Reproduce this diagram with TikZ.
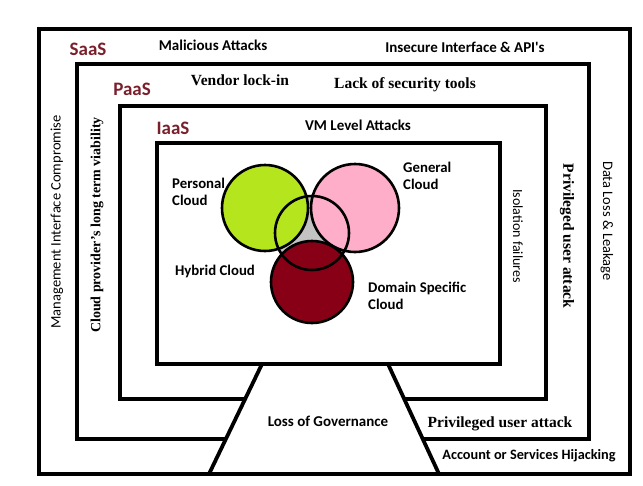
\documentclass[tikz,border=0pt]{standalone}
\usepackage{fontspec}
\setmainfont{Liberation Serif}
\newfontfamily\calfont{Carlito}
\definecolor{limeg}{HTML}{B5E61D}
\definecolor{pinkc}{HTML}{FFAEC9}
\definecolor{darkr}{HTML}{880015}
\definecolor{grayc}{HTML}{C3C3C3}
\definecolor{layerc}{HTML}{7A1F2B}
\tikzset{
  boxline/.style={line width=3.8pt, line join=miter, black},
  circline/.style={line width=2.6pt, black},
  lyr/.style={inner sep=0pt, text=layerc, font=\calfont\bfseries\fontsize{19}{21}\selectfont},
  cal/.style={inner sep=0pt, font=\calfont\bfseries\fontsize{15}{17}\selectfont},
  calr/.style={inner sep=0pt, font=\calfont\fontsize{14.5}{17}\selectfont},
  ser/.style={inner sep=0pt, font=\bfseries\fontsize{15.5}{17}\selectfont},
  venn/.style={inner sep=0pt, align=left, font=\calfont\bfseries\fontsize{14.8}{17.5}\selectfont},
}
\begin{document}
\begin{tikzpicture}[x=1pt,y=-1pt]
\useasboundingbox (0,0) rectangle (643,485);
% geometry
\coordinate (tl) at (262,364);
\coordinate (tr) at (388,364);
\coordinate (bl) at (209,474);
\coordinate (br) at (439,474);
\coordinate (pl) at (intersection of tl--bl and 0,439--643,439);
\coordinate (pr) at (intersection of tr--br and 0,439--643,439);
\coordinate (il) at (intersection of tl--bl and 0,399--643,399);
\coordinate (ir) at (intersection of tr--br and 0,399--643,399);
% outer SaaS box
\draw[boxline] (39,29) rectangle (630,474);
% PaaS box
\draw[boxline] (pl) -- (77,439) -- (77,64) -- (589,64) -- (589,439) -- (pr);
% IaaS box
\draw[boxline] (il) -- (120,399) -- (120,106) -- (546,106) -- (546,399) -- (ir);
% inner box
\draw[boxline] (157,143) rectangle (500,364);
% trapezoid sides
\draw[boxline] (tl) -- (bl);
\draw[boxline] (tr) -- (br);
% Venn
\coordinate (cg) at (265,208);
\coordinate (cp) at (355,208);
\coordinate (cd) at (312,282);
\coordinate (ch) at (312,233);
\fill[grayc] (ch) circle[radius=37pt];
\fill[limeg] (cg) circle[radius=43pt];
\fill[pinkc] (cp) circle[radius=44pt];
\fill[darkr] (cd) circle[radius=41pt];
\draw[circline] (cg) circle[radius=43pt];
\draw[circline] (cp) circle[radius=44pt];
\draw[circline] (cd) circle[radius=41pt];
\draw[circline] (ch) circle[radius=37pt];
% layer labels
\node[lyr] (saas) at (88,49) {SaaS};
\node[lyr] (paas) at (132,89) {PaaS};
\node[lyr] (iaas) at (173,128) {IaaS};
% threats
\node[cal] (mal) at (213,45) {Malicious Attacks};
\node[cal] (ins) at (465,47) {Insecure Interface \& API's};
\node[ser] (ven) at (240,80) {Vendor lock-in};
\node[ser] (lack) at (405,85) {Lack of security tools};
\node[cal] (vm) at (358,125) {VM Level Attacks};
\node[calr, rotate=90] (mgmt) at (57,222) {Management Interface Compromise};
\node[ser, rotate=90, font=\bfseries\fontsize{14}{16}\selectfont] (via) at (97,225) {Cloud provider’s long term viability};
\node[calr, font=\calfont\fontsize{14}{16}\selectfont, rotate=-90] (iso) at (518,236) {Isolation failures};
\node[ser, rotate=-90] (priv) at (567,236) {Privileged user attack};
\node[calr, rotate=-90] (dat) at (607,221) {Data Loss \& Leakage};
\node[cal] (gov) at (328,421) {Loss of Governance};
\node[ser] (priv2) at (500,424) {Privileged user attack};
\node[cal, font=\calfont\bfseries\fontsize{14.3}{16}\selectfont] (acc) at (529,456) {Account or Services Hijacking};
% venn labels
\node[venn, anchor=west] (pers) at (172,192) {Personal\\Cloud};
\node[venn, anchor=west] (gen) at (403,176) {General\\Cloud};
\node[venn] (hyb) at (215,271) {Hybrid Cloud};
\node[venn, anchor=west] (dom) at (368,296) {Domain Specific\\Cloud};
\end{tikzpicture}
\end{document}
